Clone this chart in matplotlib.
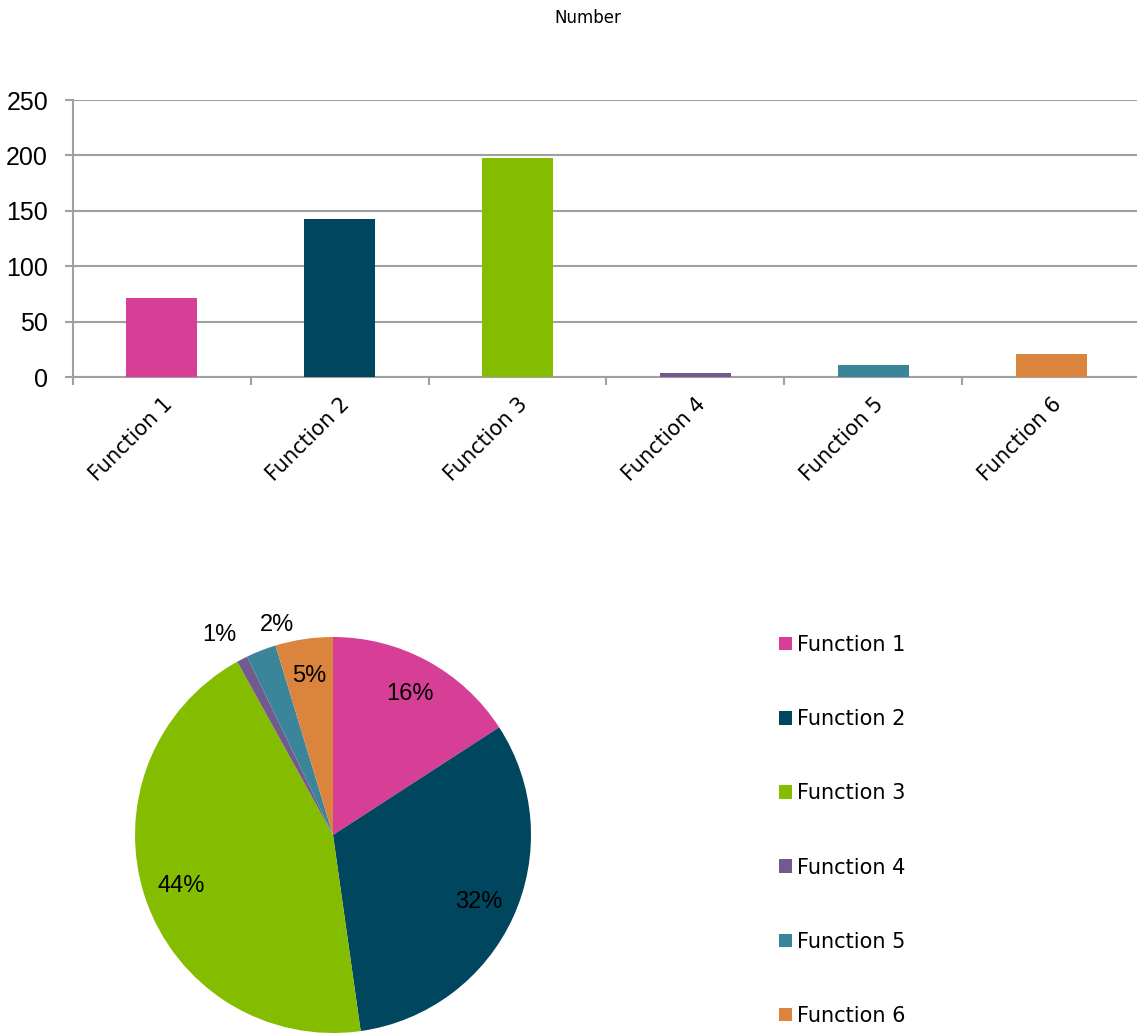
import matplotlib
matplotlib.use("Agg")
import matplotlib.pyplot as plt
import numpy as np
from matplotlib.patches import Patch

categories = ["Function 1", "Function 2", "Function 3", "Function 4", "Function 5", "Function 6"]
values = [71, 143, 198, 4, 11, 21]
colors = ["#D63F95", "#00465E", "#84BD00", "#725A8E", "#3A8599", "#DB843D"]
yticks = [0, 50, 100, 150, 200, 250]
title = "Number"

W, H = 1137, 1033
fig = plt.figure(figsize=(W / 100, H / 100), dpi=100)

grid_c = "#A0A0A0"
num_font = "Liberation Sans"
txt_font = "DejaVu Sans"

# ---- Bar chart ----
ax = fig.add_axes([73 / W, 1 - 377 / H, 1067 / W, 277 / H])
x = np.arange(len(categories))
ax.bar(x, values, width=0.4, color=colors, zorder=3)
ax.set_xlim(-0.5, len(categories) - 0.5)
ax.set_ylim(0, 250)
ax.set_yticks(yticks)
ax.set_yticklabels([str(t) for t in yticks], fontsize=18, family=num_font)
ax.yaxis.grid(True, color=grid_c, linewidth=1.5, zorder=0)
for s in ["top", "right"]:
    ax.spines[s].set_visible(False)
for s in ["left", "bottom"]:
    ax.spines[s].set_color(grid_c)
    ax.spines[s].set_linewidth(1.5)
ax.tick_params(axis="y", length=6, width=1.5, color=grid_c, pad=12)
ax.set_xticks(np.arange(-0.5, len(categories) + 0.5, 1.0))
ax.set_xticklabels([])
ax.tick_params(axis="x", which="major", length=6, width=1.5, color=grid_c)
ax.set_xticks(x, minor=True)
ax.set_xticklabels(categories, minor=True, rotation=45, ha="right",
                   rotation_mode="anchor", fontsize=15, family=txt_font)
ax.tick_params(axis="x", which="minor", length=0, pad=12)

fig.text(588 / W, 1 - 18 / H, title, ha="center", va="center", fontsize=12, family=txt_font)

# ---- Pie chart ----
R = 198
cx, cy = 333, 835
pax = fig.add_axes([(cx - R) / W, 1 - (cy + R) / H, 2 * R / W, 2 * R / H])
wedges, texts, autotexts = pax.pie(values, colors=colors, startangle=90, counterclock=False,
                                   autopct="%.0f%%", pctdistance=0.81,
                                   wedgeprops=dict(linewidth=0),
                                   textprops=dict(fontsize=17, family=num_font))
total = sum(values)
# small slices: labels outside, nudged apart (angle offset in degrees, radius)
outside_nudge = {3: (2.2, 1.16), 4: (-6.3, 1.10)}
for i, (w, t) in enumerate(zip(wedges, autotexts)):
    if i in outside_nudge:
        d_ang, r = outside_nudge[i]
        ang = np.deg2rad((w.theta1 + w.theta2) / 2 + d_ang)
        t.set_position((r * np.cos(ang), r * np.sin(ang)))
        t.set_ha("center")
pax.set_xlim(-1, 1)
pax.set_ylim(-1, 1)
pax.set_aspect("equal")
pax.axis("off")

handles = [Patch(facecolor=c, edgecolor="none") for c in colors]
fig.legend(handles, categories, loc="upper left", bbox_to_anchor=(779 / W, 1 - 635 / H),
           frameon=False, prop=dict(family=txt_font, size=15), handlelength=0.62,
           handleheight=0.62, handletextpad=0.25, labelspacing=2.6, borderpad=0,
           borderaxespad=0)

fig.savefig("out.png", dpi=100)
